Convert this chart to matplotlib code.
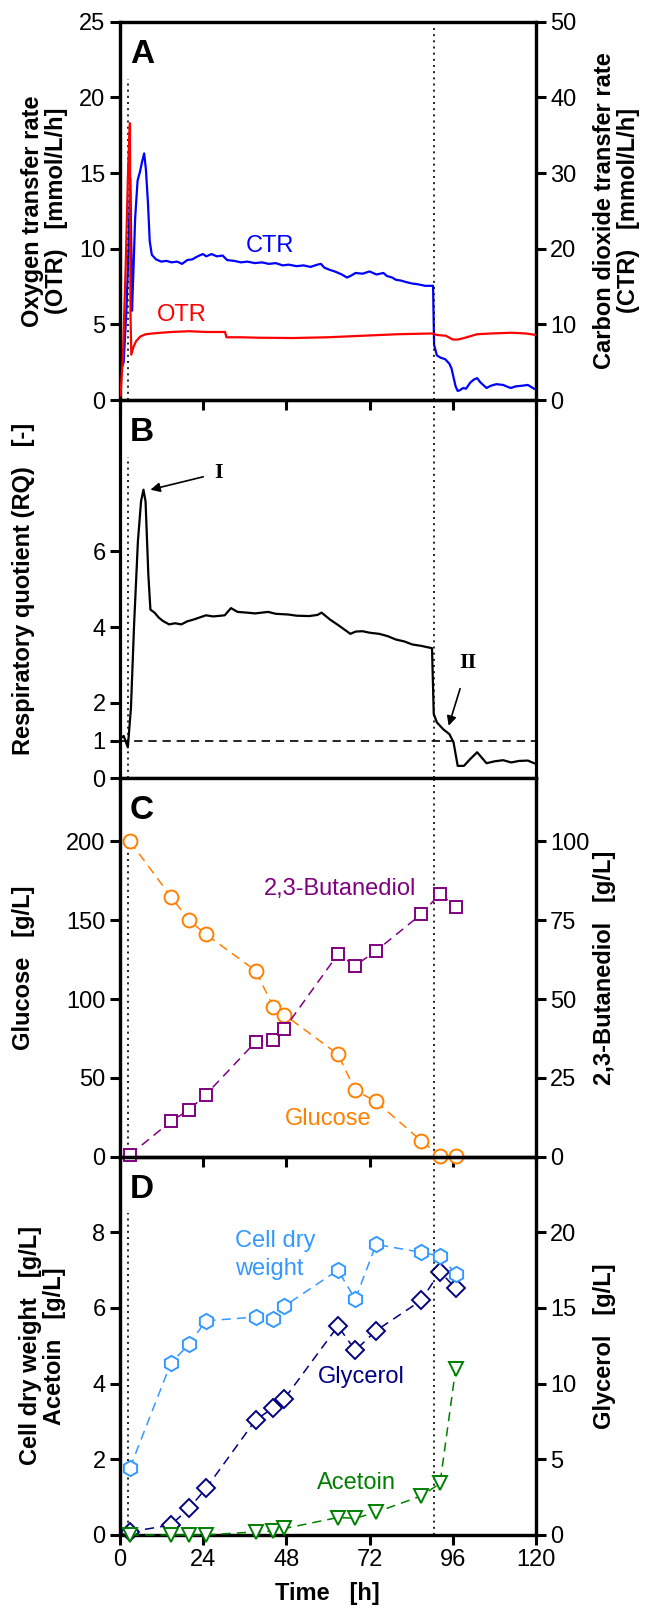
import numpy as np
import matplotlib
matplotlib.use('Agg')
import matplotlib.pyplot as plt

plt.rcParams['font.family'] = ['Liberation Sans', 'DejaVu Sans']

otr_time = [0.3, 1.0, 1.8, 2.5, 3.0, 3.15, 3.4, 4.0, 4.8, 6.0, 7.5, 9.5, 12, 15, 20, 25, 30.4, 30.8,
            35, 40, 50, 60, 70, 80, 90, 91.5, 94, 96, 97.5, 100, 103, 107, 113, 117, 120]
otr = [0.3, 3.0, 9.0, 15.5, 18.3, 5.9, 3.0, 3.5, 3.9, 4.2, 4.35, 4.4, 4.45, 4.5, 4.55, 4.5, 4.5, 4.15,
       4.15, 4.12, 4.1, 4.15, 4.25, 4.35, 4.4, 4.3, 4.25, 4.0, 4.0, 4.15, 4.35, 4.4, 4.45, 4.4, 4.3]

ctr_time = [0.6, 1.2, 2.0, 2.6, 3.1, 3.4, 3.6, 4.0, 4.5, 5.2, 5.9, 6.5, 7.1, 7.6, 8.2, 8.7, 9.3, 10.5,
            12, 13.5, 15, 16.6, 18, 19.5, 21, 22.5, 24, 25, 26.5, 28, 29.7, 31, 33, 35, 36.8, 39, 41,
            43, 45, 47, 48.7, 51, 53, 55, 57, 58, 59, 60.6, 62, 64, 65.5, 66.5, 68, 70, 72, 74, 76,
            77, 78.5, 79.6, 81, 82.5, 84.3, 86, 88, 90.3, 90.6, 91.4, 92.5, 93.8, 95.0, 95.6, 96.3,
            96.8, 97.4, 98, 99, 99.8, 101, 102, 103, 104, 105.7, 107, 108.5, 110.5, 112, 112.8, 114,
            116, 117.6, 119.4]
ctr = [4.2, 5.0, 12.0, 20.0, 29.3, 20.0, 11.8, 17.0, 24.0, 29.0, 30.2, 31.5, 32.6, 30.5, 26.0, 21.0,
       19.2, 18.6, 18.3, 18.4, 18.2, 18.3, 18.0, 18.5, 18.6, 19.0, 19.3, 19.0, 19.3, 19.0, 19.1, 18.5,
       18.4, 18.2, 18.3, 18.1, 18.2, 18.0, 18.1, 17.8, 17.9, 17.7, 17.8, 17.6, 17.9, 18.0, 17.5, 17.2,
       17.0, 16.6, 16.2, 16.4, 16.8, 16.7, 17.0, 16.6, 16.8, 16.4, 16.2, 15.9, 15.8, 15.6, 15.4, 15.3,
       15.1, 15.1, 7.3, 5.9, 5.6, 5.4, 4.8, 4.2, 2.8, 1.8, 1.2, 1.3, 1.6, 1.5, 2.3, 2.7, 2.9, 2.3, 1.6,
       1.9, 2.1, 2.0, 1.7, 1.6, 1.8, 1.9, 2.0, 1.5]

rq_time = [0.6, 1.2, 2.4, 3.3, 4.2, 5.3, 6.2, 6.9, 7.5, 8.3, 8.9, 10.1, 11.3, 12.5, 14.3, 16, 17.8,
           19.5, 21.4, 23, 24.9, 27, 30.3, 32.1, 34, 36.8, 39, 42.8, 45, 48.7, 51, 54.6, 57, 58.2,
           60.6, 63, 66.5, 68, 70, 72, 74.8, 77.2, 79.6, 82, 84.3, 87, 90.0, 90.5, 91.4, 93.2, 95,
           96.2, 97.4, 99.2, 101, 103, 105.7, 108, 110.5, 112.8, 115, 117.6, 119.4]
rq = [1.08, 1.12, 0.82, 1.87, 4.07, 6.27, 7.32, 7.63, 7.32, 5.39, 4.46, 4.38, 4.25, 4.16, 4.07, 4.1,
      4.07, 4.15, 4.2, 4.25, 4.31, 4.28, 4.31, 4.5, 4.4, 4.38, 4.36, 4.4, 4.35, 4.33, 4.3, 4.29, 4.32,
      4.38, 4.2, 4.05, 3.82, 3.88, 3.89, 3.85, 3.82, 3.76, 3.67, 3.62, 3.54, 3.5, 3.44, 1.7, 1.48,
      1.3, 1.17, 0.95, 0.33, 0.33, 0.51, 0.69, 0.4, 0.45, 0.48, 0.42, 0.46, 0.47, 0.4]

# offline samples
sample_time = [3.0, 14.8, 20.0, 24.9, 39.2, 44.3, 47.5, 62.9, 67.9, 73.9, 86.9, 92.3, 96.8]
glucose = [200, 165, 150, 141, 118, 95, 90, 65, 42, 35, 10, 0.6, 0.6]
butanediol = [0.6, 11.2, 14.8, 19.7, 36.4, 37.1, 40.6, 64.2, 60.6, 65.3, 76.9, 83.4, 79.3]
cdw = [1.77, 4.54, 5.04, 5.66, 5.76, 5.70, 6.05, 7.0, 6.23, 7.68, 7.47, 7.37, 6.91]
glycerol = [0.2, 0.66, 1.75, 3.07, 7.6, 8.4, 9.0, 13.8, 12.2, 13.5, 15.5, 17.4, 16.3]
acetoin = [0.0, 0.0, 0.0, 0.0, 0.08, 0.1, 0.17, 0.46, 0.44, 0.6, 1.03, 1.36, 4.38]

time_ticks = [0, 24, 48, 72, 96, 120]
phase_marks = [2.5, 90.5]

narrow = ['Liberation Sans Narrow', 'Liberation Sans', 'DejaVu Sans']
tick_fs = 17
lab_fs = 17
txt_fs = 17

fig = plt.figure(figsize=(6.46, 16.13), dpi=100)
gs = fig.add_gridspec(4, 1, left=0.185, right=0.83, top=0.9865, bottom=0.0484, hspace=0)
axes = [fig.add_subplot(gs[i]) for i in range(4)]


def ticks_font(ax):
    for lab in ax.get_xticklabels() + ax.get_yticklabels():
        lab.set_family(narrow)
        lab.set_fontsize(tick_fs)


def style(ax, last=False):
    ax.set_xlim(0, 120)
    ax.set_xticks(time_ticks)
    for s in ax.spines.values():
        s.set_linewidth(2.3)
    ax.tick_params(direction='out', length=7, width=2.2, labelsize=tick_fs, pad=3)
    if not last:
        ax.tick_params(axis='x', labelbottom=False)
    ax.axvline(phase_marks[0], ymax=0.85, color='k', ls=(0, (1.2, 2.5)), lw=1.2, zorder=0)
    ax.axvline(phase_marks[1], color='k', ls=(0, (1.2, 2.5)), lw=1.2, zorder=0)


def right_style(ax):
    ax.tick_params(direction='out', length=7, width=2.2, labelsize=tick_fs, pad=3)
    for s in ax.spines.values():
        s.set_linewidth(2.3)


def inline(ax, x, y, s, c, **kw):
    ax.text(x, y, s, color=c, fontsize=txt_fs, family=narrow, va='center', **kw)


# ---- A ----
ax = axes[0]
style(ax)
ax2 = ax.twinx()
right_style(ax2)
ax2.plot(ctr_time, ctr, color='#0000FF', lw=1.6)
ax.plot(otr_time, otr, color='#FF0000', lw=1.6, zorder=3)
ax.set_zorder(ax2.get_zorder() + 1)
ax.patch.set_visible(False)
ax.set_ylim(0, 25)
ax.set_yticks([0, 5, 10, 15, 20, 25])
ax2.set_ylim(0, 50)
ax2.set_yticks([0, 10, 20, 30, 40, 50])
inline(ax, 43.3, 10.2, 'CTR', '#0000FF', ha='center')
inline(ax, 17.8, 5.6, 'OTR', '#FF0000', ha='center')
ax.set_ylabel('Oxygen transfer rate\n(OTR)   [mmol/L/h]', fontsize=lab_fs, fontweight='bold',
              linespacing=1.05)
ax.yaxis.set_label_coords(-0.124, 0.5)
ax2.set_ylabel('Carbon dioxide transfer rate\n(CTR)   [mmol/L/h]', fontsize=lab_fs,
               fontweight='bold', linespacing=1.05, rotation=90, va='top')
ax2.yaxis.set_label_coords(1.137, 0.5)
ax.text(0.025, 0.955, 'A', transform=ax.transAxes, fontsize=24, fontweight='bold', va='top')
ticks_font(ax)
ticks_font(ax2)

# ---- B ----
ax = axes[1]
style(ax)
ax.plot(rq_time, rq, color='k', lw=1.6)
ax.axhline(1, color='k', ls=(0, (5, 3.5)), lw=1.2)
ax.set_ylim(0, 10)
ax.set_yticks([0, 1, 2, 4, 6])
ax.set_ylabel('Respiratory quotient (RQ)   [-]', fontsize=lab_fs, fontweight='bold')
ax.yaxis.set_label_coords(-0.203, 0.5)
ax.text(0.025, 0.955, 'B', transform=ax.transAxes, fontsize=24, fontweight='bold', va='top')
ax.annotate('I', xy=(8.9, 7.63), xytext=(28.5, 8.07), fontsize=16, fontweight='bold',
            family='Liberation Serif', ha='center', va='center',
            arrowprops=dict(arrowstyle='-|>', color='k', lw=1.2, mutation_scale=14,
                            shrinkA=6, shrinkB=0))
ax.annotate('II', xy=(94.8, 1.39), xytext=(100.4, 3.06), fontsize=16, fontweight='bold',
            family='Liberation Serif', ha='center', va='center',
            arrowprops=dict(arrowstyle='-|>', color='k', lw=1.2, mutation_scale=14,
                            shrinkA=10, shrinkB=0))
ticks_font(ax)

dash = (0, (6, 4))

# ---- C ----
ax = axes[2]
style(ax)
ax2 = ax.twinx()
right_style(ax2)
ax.plot(sample_time, glucose, ls=dash, lw=1.1, color='#FF8000', marker='o', ms=10, mfc='white',
        mew=1.4, clip_on=False, zorder=3)
ax2.plot(sample_time, butanediol, ls=dash, lw=1.1, color='#800080', marker='s', ms=8.5, mfc='white',
         mew=1.4, clip_on=False)
ax.set_ylim(0, 240)
ax.set_yticks([0, 50, 100, 150, 200])
ax2.set_ylim(0, 120)
ax2.set_yticks([0, 25, 50, 75, 100])
inline(ax, 60.0, 24, 'Glucose', '#FF8000', ha='center')
inline(ax, 63.5, 170, '2,3-Butanediol', '#800080', ha='center')
ax.set_ylabel('Glucose   [g/L]', fontsize=lab_fs, fontweight='bold')
ax.yaxis.set_label_coords(-0.203, 0.5)
ax2.set_ylabel('2,3-Butanediol   [g/L]', fontsize=lab_fs, fontweight='bold', rotation=90, va='top')
ax2.yaxis.set_label_coords(1.137, 0.5)
ax.text(0.025, 0.955, 'C', transform=ax.transAxes, fontsize=24, fontweight='bold', va='top')
ticks_font(ax)
ticks_font(ax2)

# ---- D ----
ax = axes[3]
style(ax, last=True)
ax2 = ax.twinx()
right_style(ax2)
ax.plot(sample_time, cdw, ls=dash, lw=1.1, color='#3399FF', marker='h', ms=11, mfc='white',
        mew=1.4, zorder=3)
ax.plot(sample_time, acetoin, ls=dash, lw=1.1, color='#008000', marker='v', ms=10, mfc='white',
        mew=1.4, clip_on=False, zorder=3)
ax2.plot(sample_time, glycerol, ls=dash, lw=1.1, color='#000080', marker='D', ms=9, mfc='white',
         mew=1.4, clip_on=False)
ax.set_zorder(ax2.get_zorder() + 1)
ax.patch.set_visible(False)
ax.set_ylim(0, 10)
ax.set_yticks([0, 2, 4, 6, 8])
ax2.set_ylim(0, 25)
ax2.set_yticks([0, 5, 10, 15, 20])
inline(ax, 33.3, 7.4, 'Cell dry\nweight', '#3399FF', ha='left', linespacing=1.3)
inline(ax, 69.5, 4.17, 'Glycerol', '#000080', ha='center')
inline(ax, 68.3, 1.36, 'Acetoin', '#008000', ha='center')
ax.set_ylabel('Cell dry weight   [g/L]\nAcetoin   [g/L]', fontsize=lab_fs, fontweight='bold',
              linespacing=1.05)
ax.yaxis.set_label_coords(-0.128, 0.5)
ax2.set_ylabel('Glycerol   [g/L]', fontsize=lab_fs, fontweight='bold', rotation=90, va='top')
ax2.yaxis.set_label_coords(1.137, 0.5)
ax.set_xlabel('Time   [h]', fontsize=lab_fs, fontweight='bold', labelpad=8)
ax.text(0.025, 0.955, 'D', transform=ax.transAxes, fontsize=24, fontweight='bold', va='top')
ticks_font(ax)
ticks_font(ax2)

fig.savefig('out.png', dpi=100)
